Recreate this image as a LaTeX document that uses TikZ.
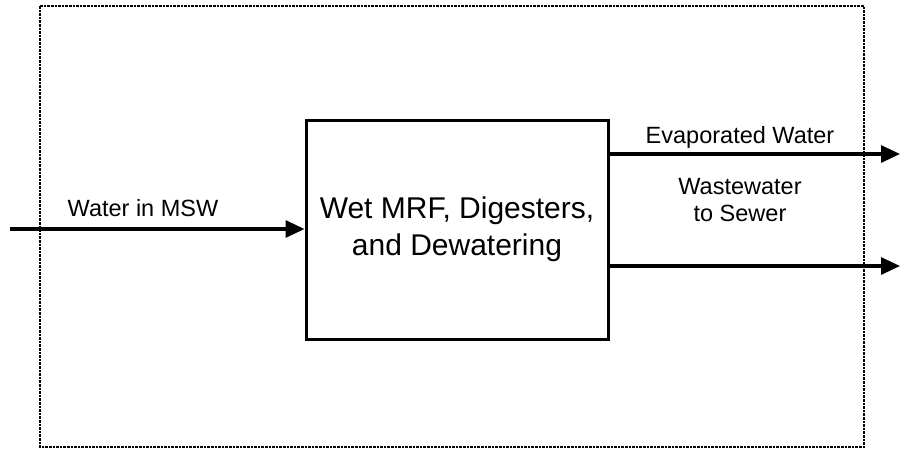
\documentclass[tikz,border=0pt]{standalone}
\usepackage{fontspec}
\setmainfont{Liberation Sans}
\usetikzlibrary{arrows.meta}
\begin{document}
\begin{tikzpicture}[x=1pt,y=-1pt,
  flow/.style={line width=3.2pt,-{Triangle[length=19pt,width=17pt]}},
  label/.style={font=\fontsize{23.5}{27}\selectfont,align=center,inner sep=0pt},
  process/.style={draw,line width=3pt,minimum width=302pt,minimum height=219pt,
    inner sep=0pt,align=center,font=\fontsize{30}{37}\selectfont}]
  \useasboundingbox (0,0) rectangle (900,451);
  % system boundary
  \draw[line width=2.6pt,densely dotted] (40,6) rectangle (864,447);
  % process unit
  \node[process] (unit) at (457,229.5) {Wet MRF, Digesters,\\and Dewatering};
  % stream ends
  \coordinate (src) at (10,229);
  \coordinate (evap) at (900,154);
  \coordinate (sewer) at (900,266);
  \draw[flow] (src) -- (unit.west |- src);
  \draw[flow] (unit.east |- evap) -- (evap);
  \draw[flow] (unit.east |- sewer) -- (sewer);
  % stream labels
  \node[label] (lin) at (143,208) {Water in MSW};
  \node[label] (levap) at (740,137) {Evaporated Water};
  \node[label] (lsewer) at (740,200) {Wastewater\\to Sewer};
\end{tikzpicture}
\end{document}
